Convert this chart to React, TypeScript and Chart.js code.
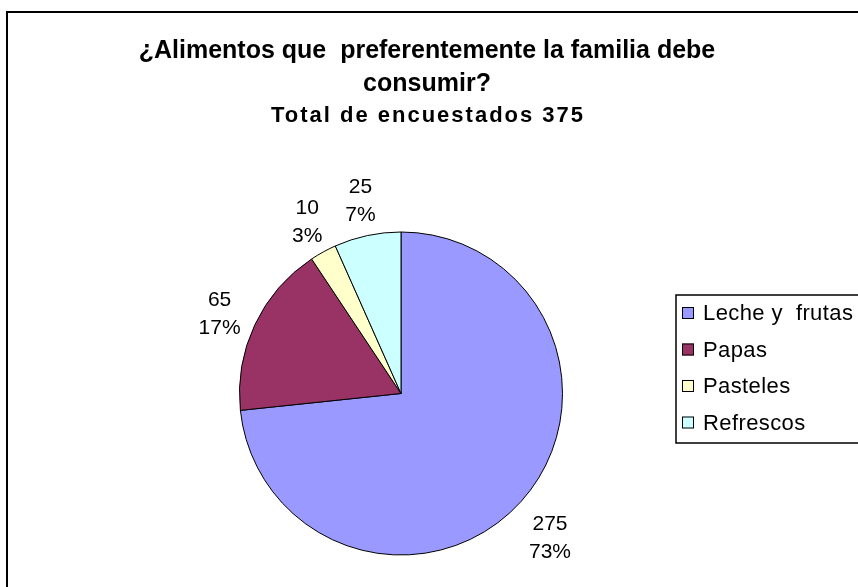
import { useEffect, useRef } from 'react';
import { Chart, registerables } from 'chart.js';
Chart.register(...registerables);

const categories = ['Leche y  frutas', 'Papas', 'Pasteles', 'Refrescos'];
const values = [275, 65, 10, 25];
const colors = ['#9999FF', '#993366', '#FFFFCC', '#CCFFFF'];
const titleLines = ['¿Alimentos que  preferentemente la familia debe', 'consumir?'];
const subtitle = 'Total de encuestados 375';

const FONT = "'Liberation Sans', Arial, sans-serif";

const decor = {
  id: 'decor',
  beforeDraw(chart: any) {
    const ctx = chart.ctx;
    ctx.save();
    ctx.fillStyle = '#fff';
    ctx.fillRect(0, 0, chart.width, chart.height);
    ctx.restore();
  },
  afterDraw(chart: any) {
    const ctx = chart.ctx;
    ctx.save();
    // outer frame (left & top visible)
    ctx.strokeStyle = '#000';
    ctx.lineWidth = 2;
    ctx.beginPath();
    ctx.moveTo(7, chart.height + 2);
    ctx.lineTo(7, 12);
    ctx.lineTo(chart.width + 2, 12);
    ctx.stroke();

    // title
    ctx.fillStyle = '#000';
    ctx.textAlign = 'center';
    ctx.textBaseline = 'middle';
    ctx.font = `bold 25px ${FONT}`;
    ctx.fillText(titleLines[0], 427, 51);
    ctx.fillText(titleLines[1], 427, 84);
    ctx.font = `bold 22px ${FONT}`;
    (ctx as any).letterSpacing = '2px';
    ctx.fillText(subtitle, 428, 116);
    (ctx as any).letterSpacing = '0px';

    // data labels
    const meta = chart.getDatasetMeta(0);
    const total = values.reduce((a, b) => a + b, 0);
    ctx.font = `21px ${FONT}`;
    meta.data.forEach((arc: any, i: number) => {
      const mid = (arc.startAngle + arc.endAngle) / 2;
      const pct = Math.round((values[i] / total) * 100) + '%';
      const halfW = Math.max(ctx.measureText(String(values[i])).width, ctx.measureText(pct).width) / 2;
      const halfH = 25;
      const r = arc.outerRadius + 18;
      const x = arc.x + Math.cos(mid) * r + Math.cos(mid) * halfW;
      const y = arc.y + Math.sin(mid) * r + Math.sin(mid) * halfH + 8;
      ctx.fillText(String(values[i]), x, y - 14);
      ctx.fillText(pct, x, y + 14);
    });

    // legend
    const lx = 676;
    const top = 295;
    const bottom = 443;
    ctx.lineWidth = 1.5;
    ctx.beginPath();
    ctx.moveTo(lx, top);
    ctx.lineTo(chart.width + 2, top);
    ctx.lineTo(chart.width + 2, bottom);
    ctx.lineTo(lx, bottom);
    ctx.closePath();
    ctx.stroke();
    ctx.textAlign = 'left';
    ctx.font = `22px ${FONT}`;
    (ctx as any).letterSpacing = '0.4px';
    categories.forEach((c, i) => {
      const cy = 313 + i * 36.5;
      ctx.fillStyle = colors[i];
      ctx.fillRect(682, cy - 6, 12, 12);
      ctx.strokeStyle = '#000';
      ctx.lineWidth = 1;
      ctx.strokeRect(682.5, cy - 5.5, 11, 11);
      ctx.fillStyle = '#000';
      ctx.fillText(c, 703, cy + 1);
    });
    (ctx as any).letterSpacing = '0px';
    ctx.restore();
  },
};

export default function App() {
  const ref = useRef<HTMLCanvasElement>(null);
  useEffect(() => {
    if (!ref.current) return;
    const chart = new Chart(ref.current, {
      type: 'pie',
      data: {
        labels: categories,
        datasets: [
          {
            data: values,
            backgroundColor: colors,
            borderColor: '#000',
            borderWidth: 1,
          },
        ],
      },
      options: {
        responsive: false,
        animation: false,
        layout: { padding: { left: 239, right: 295, top: 231, bottom: 31 } },
        plugins: {
          legend: { display: false },
          title: { display: false },
          tooltip: { enabled: false },
        },
      },
      plugins: [decor],
    });
    return () => chart.destroy();
  }, []);
  return (
    <div style={{ position: 'absolute', left: 0, top: 0, width: 858, height: 587 }}>
      <canvas ref={ref} width={858} height={587} />
    </div>
  );
}
